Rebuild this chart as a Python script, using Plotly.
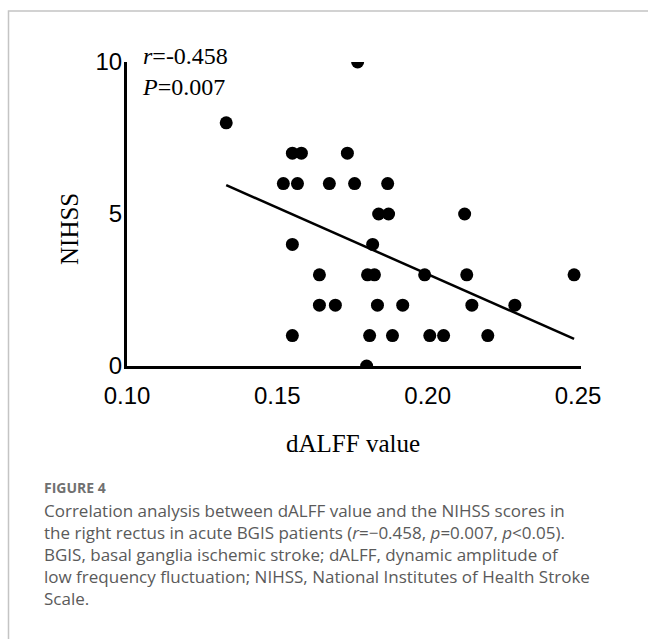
import plotly.graph_objects as go

# ---- data ----
dalff = [0.1767,
         0.133,
         0.155, 0.158, 0.1733,
         0.152, 0.1567, 0.1673, 0.1757, 0.1867,
         0.1837, 0.187, 0.2123,
         0.155, 0.1817,
         0.164, 0.180, 0.1823, 0.199, 0.213, 0.2487,
         0.164, 0.1693, 0.1833, 0.1917, 0.2147, 0.229,
         0.155, 0.1807, 0.1883, 0.2007, 0.2053, 0.220,
         0.1797]
nihss = [10,
         8,
         7, 7, 7,
         6, 6, 6, 6, 6,
         5, 5, 5,
         4, 4,
         3, 3, 3, 3, 3, 3,
         2, 2, 2, 2, 2, 2,
         1, 1, 1, 1, 1, 1,
         0]
fit_x = [0.133, 0.2487]
fit_y = [5.95, 0.89]
x_ticks = [0.10, 0.15, 0.20, 0.25]
x_tick_labels = ["0.10", "0.15", "0.20", "0.25"]
y_ticks = [0, 5, 10]
y_tick_labels = ["0", "5", "10"]
stat_lines = ["<i>r</i>=-0.458", "<i>P</i>=0.007"]
caption_head = "FIGURE 4"
caption_lines = [
    "Correlation analysis between dALFF value and the NIHSS scores in",
    "the right rectus in acute BGIS patients (<i>r</i>=\u22120.458, <i>p</i>=0.007, <i>p</i>&lt;0.05).",
    "BGIS, basal ganglia ischemic stroke; dALFF, dynamic amplitude of",
    "low frequency fluctuation; NIHSS, National Institutes of Health Stroke",
    "Scale.",
]

W, H = 648, 639


def px(x):
    return x / W


def py(y):
    return 1 - y / H


fig = go.Figure()
fig.add_trace(go.Scatter(x=fit_x, y=fit_y, mode="lines",
                         line=dict(color="black", width=2.5),
                         hoverinfo="skip", showlegend=False))
fig.add_trace(go.Scatter(x=dalff, y=nihss, mode="markers",
                         marker=dict(color="black", size=13, line=dict(width=0)),
                         showlegend=False, cliponaxis=True))

serif = "Liberation Serif, Times New Roman, serif"
sans = "Liberation Sans, Arial, sans-serif"
cap_font = "Open Sans, sans-serif"

fig.update_layout(
    width=W, height=H,
    margin=dict(l=0, r=0, t=0, b=0, autoexpand=False),
    paper_bgcolor="white", plot_bgcolor="white",
    xaxis=dict(domain=[px(127), px(581)], range=[0.10, 0.251],
               tickvals=x_ticks, ticktext=x_tick_labels,
               showgrid=False, zeroline=False, showline=True,
               linecolor="black", linewidth=3, ticks="",
               ticklabelstandoff=6,
               tickfont=dict(family=sans, size=24, color="black")),
    yaxis=dict(domain=[py(366), py(62)], range=[0, 10],
               tickvals=y_ticks, ticktext=y_tick_labels,
               showgrid=False, zeroline=False, showline=True,
               linecolor="black", linewidth=3, ticks="",
               ticklabelstandoff=-3,
               tickfont=dict(family=sans, size=24, color="black")),
)

ann = []
# axis titles
ann.append(dict(x=px(353), y=py(443), xref="paper", yref="paper",
                text="dALFF value", showarrow=False,
                xanchor="center", yanchor="middle",
                font=dict(family=serif, size=25, color="black")))
ann.append(dict(x=px(69), y=py(229), xref="paper", yref="paper",
                text="NIHSS", showarrow=False, textangle=-90,
                xanchor="center", yanchor="middle",
                font=dict(family=serif, size=25, color="black")))
# statistics
ann.append(dict(x=px(140), y=py(72), xref="paper", yref="paper",
                text="<br>".join(stat_lines), showarrow=False,
                xanchor="left", yanchor="middle", align="left",
                font=dict(family=serif, size=24, color="black")))
# caption
ann.append(dict(x=px(42), y=py(487), xref="paper", yref="paper",
                text="<b>" + caption_head + "</b>", showarrow=False,
                xanchor="left", yanchor="middle",
                font=dict(family=cap_font, size=14, color="#707070")))
ann.append(dict(x=px(42), y=py(554), xref="paper", yref="paper",
                text="<br>".join(caption_lines), showarrow=False,
                xanchor="left", yanchor="middle", align="left",
                font=dict(family=cap_font, size=17, color="#5a5a5a")))
fig.update_layout(annotations=ann)

# figure frame (left and top edges)
fig.add_shape(type="path", xref="paper", yref="paper",
              path=f"M {px(8.5)},{py(639)} L {px(8.5)},{py(11)} L {px(648)},{py(11)}",
              line=dict(color="#c4c4c4", width=1.5))

fig.write_html("out.html")
